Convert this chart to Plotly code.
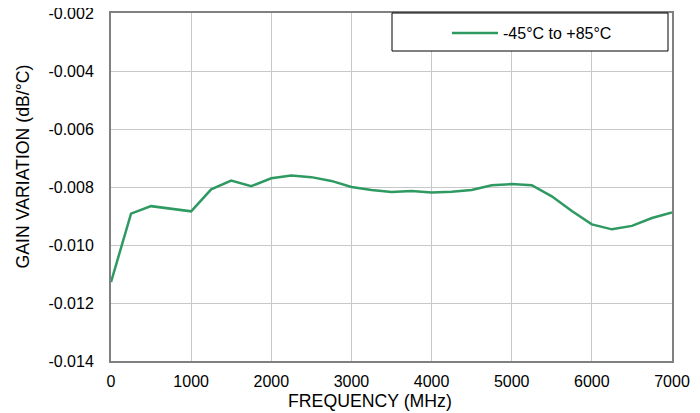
import plotly.graph_objects as go

freq_mhz = [0, 250, 500, 750, 1000, 1250, 1500, 1750, 2000, 2250, 2500, 2750, 3000, 3250,
            3500, 3750, 4000, 4250, 4500, 4750, 5000, 5250, 5500, 5750, 6000, 6250, 6500,
            6750, 7000]
gain_var = [-0.01128, -0.00892, -0.00866, -0.00874, -0.00884, -0.00808, -0.00778, -0.00797,
            -0.00770, -0.00760, -0.00766, -0.00779, -0.00800, -0.00810, -0.00817, -0.00814,
            -0.00819, -0.00816, -0.00810, -0.00794, -0.00790, -0.00794, -0.00832, -0.00883,
            -0.00929, -0.00946, -0.00934, -0.00907, -0.00888]
series_name = "-45°C to +85°C"

y_tick_vals = [-0.014, -0.012, -0.010, -0.008, -0.006, -0.004, -0.002]
y_tick_text = ["-0.014", "-0.012", "-0.010", "-0.008", "-0.006", "-0.004", "-0.002"]
x_tick_vals = [0, 1000, 2000, 3000, 4000, 5000, 6000, 7000]
x_tick_text = ["0", "1000", "2000", "3000", "4000", "5000", "6000", "7000"]

FONT = "Liberation Sans, Arial, sans-serif"
OFF = 8  # page body margin
W, H = 700, 413
L, T = 111 - OFF, 13 - OFF
pw, ph = 561, 348
R = W - L - pw
B = H - T - ph

def px_x(p):  # page pixel -> paper x
    return (p - OFF - L) / pw

def px_y(p):  # page pixel -> paper y
    return 1 - (p - OFF - T) / ph

fig = go.Figure()
fig.add_trace(go.Scatter(x=freq_mhz, y=gain_var, mode="lines", name=series_name,
                         line=dict(color="#2e9a62", width=2.5), showlegend=True))

fig.update_layout(
    width=W, height=H,
    margin=dict(l=L, r=R, t=T, b=B, pad=0, autoexpand=False),
    paper_bgcolor="white", plot_bgcolor="white",
    font=dict(family=FONT, size=16, color="black"),
    xaxis=dict(range=[0, 7000], tickvals=x_tick_vals, ticktext=x_tick_text,
               showgrid=True, gridcolor="#c8c8c8", gridwidth=1,
               showline=True, linecolor="#808080", linewidth=2, mirror=True,
               zeroline=False, ticks="", ticklabelstandoff=5, automargin=False,
               ticklabeloverflow="allow", tickfont=dict(family=FONT, size=16)),
    yaxis=dict(range=[-0.014, -0.002], tickvals=y_tick_vals, ticktext=y_tick_text,
               showgrid=True, gridcolor="#c8c8c8", gridwidth=1,
               showline=True, linecolor="#808080", linewidth=2, mirror=True,
               zeroline=False, ticks="", ticklabelstandoff=12, automargin=False,
               ticklabeloverflow="allow", tickfont=dict(family=FONT, size=16)),
    legend=dict(x=px_x(447), y=px_y(33), xanchor="left", yanchor="middle",
                bgcolor="rgba(0,0,0,0)", borderwidth=0,
                font=dict(family=FONT, size=16), itemwidth=46),
    shapes=[dict(type="rect", xref="paper", yref="paper",
                 x0=px_x(392), x1=px_x(668), y0=px_y(51), y1=px_y(13),
                 line=dict(color="black", width=1), fillcolor="white", layer="above")],
    annotations=[
        dict(text="FREQUENCY (MHz)", xref="paper", yref="paper",
             x=px_x(370), y=px_y(401), xanchor="center", yanchor="middle",
             showarrow=False, font=dict(family=FONT, size=17.7)),
        dict(text="GAIN VARIATION (dB/°C)", xref="paper", yref="paper",
             x=px_x(22), y=px_y(166.5), xanchor="center", yanchor="middle",
             textangle=-90, showarrow=False, font=dict(family=FONT, size=17.7)),
        dict(text="P<sub>IN</sub> = −25.0 dBm, V<sub>DD</sub> = 5.0 V, C<sub>C2</sub> = 0.1 µF",
             xref="paper", yref="paper", x=px_x(218), y=1, xanchor="left",
             yanchor="bottom", yshift=2, showarrow=False,
             font=dict(family=FONT, size=16)),
    ],
)
fig.write_html("out.html")
